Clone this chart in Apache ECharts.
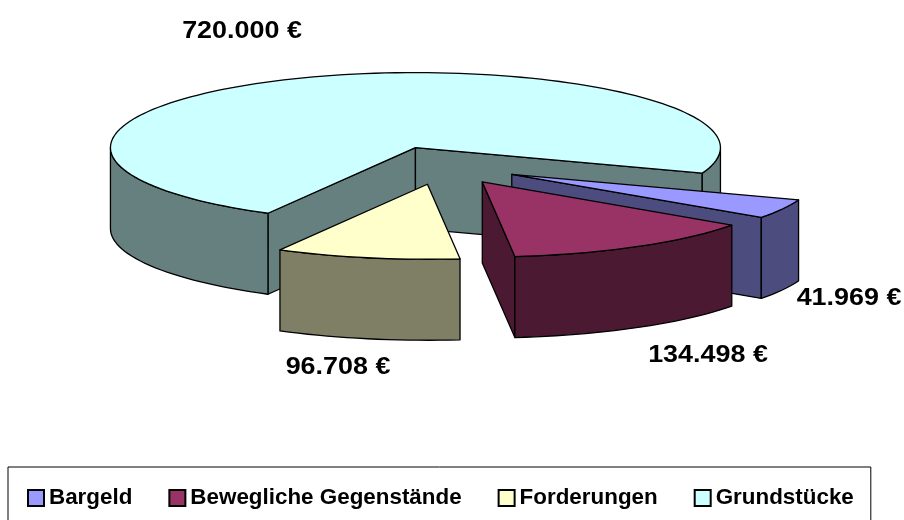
<!DOCTYPE html>
<html>
<head>
<meta charset="utf-8">
<style>
  html, body { margin: 0; padding: 0; background: #fff; }
  #chart { width: 904px; height: 520px; }
</style>
<script src="https://cdn.jsdelivr.net/npm/echarts@6/dist/echarts.min.js"></script>
</head>
<body>
<div id="chart"></div>
<script>
const categories = ['Bargeld', 'Bewegliche Gegenstände', 'Forderungen', 'Grundstücke']
const values = [41969, 134498, 96708, 720000]
const valueLabels = ['41.969 €', '134.498 €', '96.708 €', '720.000 €']
const topColors = ['#9999ff', '#993366', '#ffffcc', '#ccffff']
const sideColors = ['#4c4c7f', '#4c1933', '#7f7f66', '#667f7f']

// where the 3d pie sits on the page
const cx = 442.8
const cy = 165.5
const rx = 305
const ry = 75
const depth = 81
const explode = 0.255
const startAngle = 19.9
const labelPos = [[849, 298.5], [708, 355.5], [338, 368], [242, 32]]
const labelStretch = 1.17

const total = values.reduce((a, b) => a + b, 0)
const rad = (d) => (d * Math.PI) / 180

function arcPoints(ox, oy, a0, a1, dy) {
  const pts = []
  const n = Math.max(2, Math.ceil((a1 - a0) / 2))
  for (let i = 0; i <= n; i++) {
    const a = rad(a0 + ((a1 - a0) * i) / n)
    pts.push([ox + rx * Math.cos(a), oy + dy + ry * Math.sin(a)])
  }
  return pts
}

const face = (points, fill) => ({
  type: 'polygon',
  shape: { points },
  style: { fill, stroke: '#000', lineWidth: 1.3, lineJoin: 'round' },
})

// part of the rim that faces the viewer (sin > 0)
function rimFaces(ox, oy, a0, a1, fill) {
  const out = []
  for (let k = 0; k <= 1; k++) {
    const from = Math.max(a0, k * 360)
    const to = Math.min(a1, k * 360 + 180)
    if (to > from) {
      const up = arcPoints(ox, oy, from, to, 0)
      const down = arcPoints(ox, oy, from, to, depth).reverse()
      out.push(face(up.concat(down), fill))
    }
  }
  return out
}

function wall(ox, oy, a, fill) {
  const x = ox + rx * Math.cos(rad(a))
  const y = oy + ry * Math.sin(rad(a))
  return face([[ox, oy], [x, y], [x, y + depth], [ox, oy + depth]], fill)
}

function sliceRenderer(index) {
  return function (params, api) {
    const value = api.value(0)
    let before = 0
    for (let i = 0; i < index; i++) before += values[i]
    const a0 = startAngle + (before / total) * 360
    const a1 = a0 + (value / total) * 360
    const mid = rad((a0 + a1) / 2)
    const ox = cx + explode * rx * Math.cos(mid)
    const oy = cy + explode * ry * Math.sin(mid)
    const children = []
    if (Math.cos(rad(a0)) < 0) children.push(wall(ox, oy, a0, sideColors[index]))
    if (Math.cos(rad(a1)) > 0) children.push(wall(ox, oy, a1, sideColors[index]))
    rimFaces(ox, oy, a0, a1, sideColors[index]).forEach((f) => children.push(f))
    children.push(face([[ox, oy]].concat(arcPoints(ox, oy, a0, a1, 0)), topColors[index]))
    children.push({
      type: 'text',
      x: labelPos[index][0],
      y: labelPos[index][1],
      scaleX: labelStretch,
      style: {
        text: valueLabels[index],
        fill: '#000',
        font: 'bold 23px "Liberation Sans", Arial, sans-serif',
        align: 'center',
        verticalAlign: 'middle',
      },
    })
    return { type: 'group', children }
  }
}

// grundstücke sits at the back so it has to be painted first
const drawOrder = [3, 0, 1, 2]

const mychart = echarts.init(document.getElementById('chart'))
mychart.setOption({
  animation: false,
  legend: {
    data: categories,
    left: 8,
    top: 467,
    padding: [20, 17, 30, 19],
    itemGap: 36,
    itemWidth: 16,
    itemHeight: 16,
    borderColor: '#000',
    borderWidth: 1,
    icon: 'rect',
    textStyle: {
      color: '#000',
      fontFamily: '"Liberation Sans", Arial, sans-serif',
      fontWeight: 'bold',
      fontSize: 22.4,
    },
  },
  series: drawOrder.map((i) => ({
    type: 'custom',
    name: categories[i],
    coordinateSystem: 'none',
    silent: true,
    itemStyle: { color: topColors[i], borderColor: '#000', borderWidth: 1 },
    renderItem: sliceRenderer(i),
    data: [[values[i]]],
  })),
})
</script>
</body>
</html>
